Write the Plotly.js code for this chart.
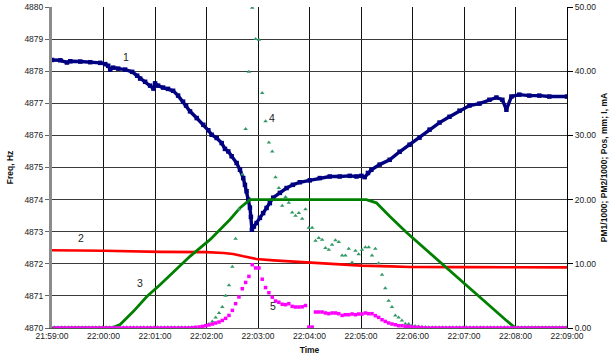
<!DOCTYPE html>
<html>
<head>
<meta charset="utf-8">
<script src="https://cdn.plot.ly/plotly-3.0.1.min.js"></script>
<style>html,body{margin:0;padding:0;background:#fff;}#chart{width:613px;height:361px;}</style>
</head>
<body>
<div id="chart"></div>
<script>
// X axis: seconds after 21:59:00
const xTickVals = [0, 60, 120, 180, 240, 300, 360, 420, 480, 540, 600];
const xTickText = ['21:59:00','22:00:00','22:01:00','22:02:00','22:03:00','22:04:00','22:05:00','22:06:00','22:07:00','22:08:00','22:09:00'];

// Series 1: Freq, Hz (left axis)
const freqTime = [0,9.7,17.4,21.3,32.9,44.5,56.2,62.0,65.5,67.8,71.3,77.1,85.2,93.4,99.2,102.7,108.5,114.3,118.1,120.1,123.6,129.4,135.2,141.1,146.9,152.7,156.2,160.8,168.6,176.3,182.1,186.0,191.9,197.7,201.5,205.4,209.3,215.1,219.0,222.8,224.8,226.7,228.6,230.6,231.7,232.9,235.2,238.4,242.2,246.0,250.0,253.8,257.7,265.5,273.3,280.6,288.7,300.3,312.0,323.6,335.2,346.9,354.7,360.5,364.3,368.1,372.1,381.7,393.4,405.0,416.6,428.2,439.9,451.5,463.1,474.8,486.4,498.0,509.6,517.8,524.7,529.4,535.2,544.5,556.1,567.7,579.4,600];
const freqHz = [4878.35,4878.34,4878.27,4878.31,4878.30,4878.28,4878.26,4878.22,4878.17,4878.05,4878.11,4878.08,4878.05,4877.98,4877.86,4877.77,4877.67,4877.55,4877.46,4877.62,4877.55,4877.49,4877.45,4877.39,4877.24,4877.05,4876.93,4876.75,4876.54,4876.33,4876.16,4876.02,4875.92,4875.76,4875.58,4875.50,4875.35,4875.14,4874.93,4874.67,4874.46,4874.26,4874.00,4873.75,4873.46,4873.06,4873.16,4873.27,4873.43,4873.58,4873.74,4873.89,4874.06,4874.21,4874.36,4874.46,4874.54,4874.60,4874.67,4874.72,4874.72,4874.74,4874.72,4874.74,4874.70,4874.83,4874.93,4875.09,4875.24,4875.49,4875.71,4875.93,4876.18,4876.40,4876.58,4876.77,4876.93,4876.99,4877.11,4877.18,4877.11,4876.80,4877.21,4877.27,4877.24,4877.24,4877.21,4877.21];

// Series 2: red line (right axis)
const curTime = [0,60,126,161,180,200,211,223,238,258,277,300,335,360,395,418,480,540,600];
const curVal = [12.1,12.04,11.85,11.84,11.82,11.68,11.53,11.16,10.75,10.53,10.38,10.22,9.86,9.71,9.6,9.5,9.48,9.46,9.45];

// Series 3: green line (right axis)
const posTime = [0,67.8,72,79.4,94.9,110.5,125.9,160.8,184.1,207.4,219,230.6,366.3,377.9,393.4,412.8,530,540,600];
const posVal = [0,0,0.15,0.55,2.59,4.9,6.75,11.16,13.76,16.9,18.7,20.0,20.0,19.5,17.4,14.9,1.1,0,0];

// Series 4 and 5: PM1/1000 and PM2/1000 (right axis), shared sample times
const preTime = [3,7,11,15,19,23,27,31,35,39,43,47,51,55,59,63,67,71,75,79,83,87,91,95,99,103,107,111,115,119,123,127,131,135,139,143,147,151,155,159,163,167];
const prePM1 = [0.1,0.1,0.1,0.1,0.1,0.1,0.1,0.1,0.1,0.1,0.1,0.1,0.1,0.1,0.1,0.1,0.1,0.1,0.1,0.1,0.1,0.1,0.1,0.1,0.1,0.1,0.1,0.1,0.1,0.1,0.1,0.1,0.1,0.1,0.1,0.1,0.1,0.1,0.1,0.1,0.1,0.1];
const prePM2 = [0,0,0,0,0,0,0,0,0,0,0,0,0,0,0,0,0,0,0,0,0,0,0,0,0,0,0,0,0,0,0,0,0,0,0,0,0,0,0,0,0.05,0.1];
const actTime = [171.3,175.2,179.1,182.9,186.8,190.7,194.6,198.4,202.3,206.2,210.1,213.9,217.8,221.7,225.6,229.4,233.3,237.2,241.1,244.9,248.8,252.7,256.6,260.4,264.3,268.2,272.1,275.9,279.8,283.7,287.6,291.5,295.3,299.2,303.1,307.0,310.8,314.7,318.6,322.5,326.3,330.2,334.1,338.0,341.8,345.7,349.6,353.5,357.3,361.2,365.1,369.0,372.8,376.7,380.6,384.5,388.3,392.2,396.1,400.0,403.8,407.7,411.6,415.5,419.3];
const actPM1 = [0.1,0.2,0.36,0.62,1.03,1.65,2.34,3.27,5.03,6.64,9.55,13.9,18.5,23.9,31.0,39.9,49.9,45.0,44.9,36.6,32.2,28.9,27.5,23.5,21.8,19.05,20.4,19.5,18.0,17.5,17.9,17.0,18.5,15.6,15.6,13.6,14.0,13.76,12.46,12.2,12.98,13.65,13.4,11.3,11.3,12.36,10.2,12.04,11.5,12.2,12.56,12.56,11.3,12.36,10.1,8.3,6.2,4.25,3.27,1.96,1.65,1.18,0.67,0.62,0.35];
const actPM2 = [0.15,0.25,0.36,0.47,0.62,0.78,0.93,1.18,1.5,1.96,2.74,3.79,4.83,6.12,7.1,8.04,9.86,9.35,9.35,7.6,6.3,5.5,4.8,4.2,4.0,3.7,3.63,3.79,3.37,3.27,3.27,3.3,3.5,0.15,0.15,2.49,2.49,2.49,2.34,2.23,2.34,2.34,2.23,1.96,2.07,2.07,2.18,2.07,2.18,2.18,2.34,2.23,2.23,1.92,1.65,1.29,1.03,0.78,0.62,0.51,0.36,0.36,0.25,0.25,0.15];
const postTime = [423,427,431,435,439,443,447,451,455,459,463,467,471,475,479,483,487,491,495,499,503,507,511,515,519,523,527,531,535,539,543,547,551,555,559,563,567,571,575,579,583,587,591,595,599];
const postPM1 = [0.3,0.25,0.2,0.15,0.1,0.1,0.1,0.1,0.1,0.1,0.1,0.1,0.1,0.1,0.1,0.1,0.1,0.1,0.1,0.1,0.1,0.1,0.1,0.1,0.1,0.1,0.1,0.1,0.1,0.1,0.1,0.1,0.1,0.1,0.1,0.1,0.1,0.1,0.1,0.1,0.1,0.1,0.1,0.1,0.1];
const postPM2 = [0.1,0.1,0.05,0,0,0,0,0,0,0,0,0,0,0,0,0,0,0,0,0,0,0,0,0,0,0,0,0,0,0,0,0,0,0,0,0,0,0,0,0,0,0,0,0,0];

// Curve labels
const labelText = ['1','2','3','4','5'];
const labelX = [86, 34, 102, 256, 258];
const labelY = [4878.45, 4872.8, 4871.4, 4876.55, 4870.7];

const pmTime = preTime.concat(actTime, postTime);
const pm1 = prePM1.concat(actPM1, postPM1);
const pm2 = prePM2.concat(actPM2, postPM2);

const FONT = 'Liberation Sans, Arial, Helvetica, sans-serif';

const traces = [
  {x: freqTime, y: freqHz, type: 'scatter', mode: 'lines+markers', yaxis: 'y',
   line: {color: '#000080', width: 3.4}, marker: {color: '#000080', size: 4.5, symbol: 'square'}},
  {x: curTime, y: curVal, type: 'scatter', mode: 'lines', yaxis: 'y2',
   line: {color: '#ff0000', width: 2.6}},
  {x: posTime, y: posVal, type: 'scatter', mode: 'lines', yaxis: 'y2',
   line: {color: '#008000', width: 2.8}},
  {x: pmTime, y: pm1, type: 'scatter', mode: 'markers', yaxis: 'y2',
   marker: {color: '#339966', size: 4, symbol: 'triangle-up'}},
  {x: pmTime, y: pm2, type: 'scatter', mode: 'markers', yaxis: 'y2',
   marker: {color: '#ff00ff', size: 3.5, symbol: 'square'}}
];

const annotations = labelText.map((t, i) => ({
  x: labelX[i], y: labelY[i], xref: 'x', yref: 'y', text: t, showarrow: false,
  font: {family: FONT, size: 10.5, color: '#222'}
}));

const titleFont = {family: FONT, size: 8.5, color: '#111', weight: 'bold'};

const layout = {
  width: 613, height: 361,
  margin: {l: 52, r: 46, t: 7, b: 33},
  paper_bgcolor: '#ffffff', plot_bgcolor: '#ffffff',
  showlegend: false, hovermode: false,
  font: {family: FONT, size: 8.5, color: '#222'},
  annotations: annotations,
  xaxis: {
    range: [0, 600], tickmode: 'array', tickvals: xTickVals, ticktext: xTickText,
    showgrid: true, gridcolor: '#111', gridwidth: 1,
    showline: true, linecolor: '#555', linewidth: 1,
    ticks: '', zeroline: false, fixedrange: true,
    title: {text: 'Time', font: titleFont, standoff: 6}
  },
  yaxis: {
    range: [4870, 4880], tick0: 4870, dtick: 1,
    showgrid: true, gridcolor: '#3a3a3a', gridwidth: 1,
    showline: true, linecolor: '#8c8c8c', linewidth: 3,
    ticks: 'outside', ticklen: 4, tickcolor: '#666',
    zeroline: false, fixedrange: true,
    title: {text: 'Freq, Hz', font: titleFont, standoff: 10}
  },
  yaxis2: {
    range: [0, 50], tick0: 0, dtick: 10, overlaying: 'y', side: 'right',
    tickformat: '.2f', showgrid: false,
    showline: true, linecolor: '#000', linewidth: 1,
    ticks: 'outside', ticklen: 5, tickcolor: '#000',
    zeroline: false, fixedrange: true,
    title: {text: 'PM1/1000; PM2/1000; Pos, mm; I, mA', font: titleFont, standoff: 5}
  }
};

Plotly.newPlot('chart', traces, layout, {staticPlot: true, displayModeBar: false});
</script>
</body>
</html>
